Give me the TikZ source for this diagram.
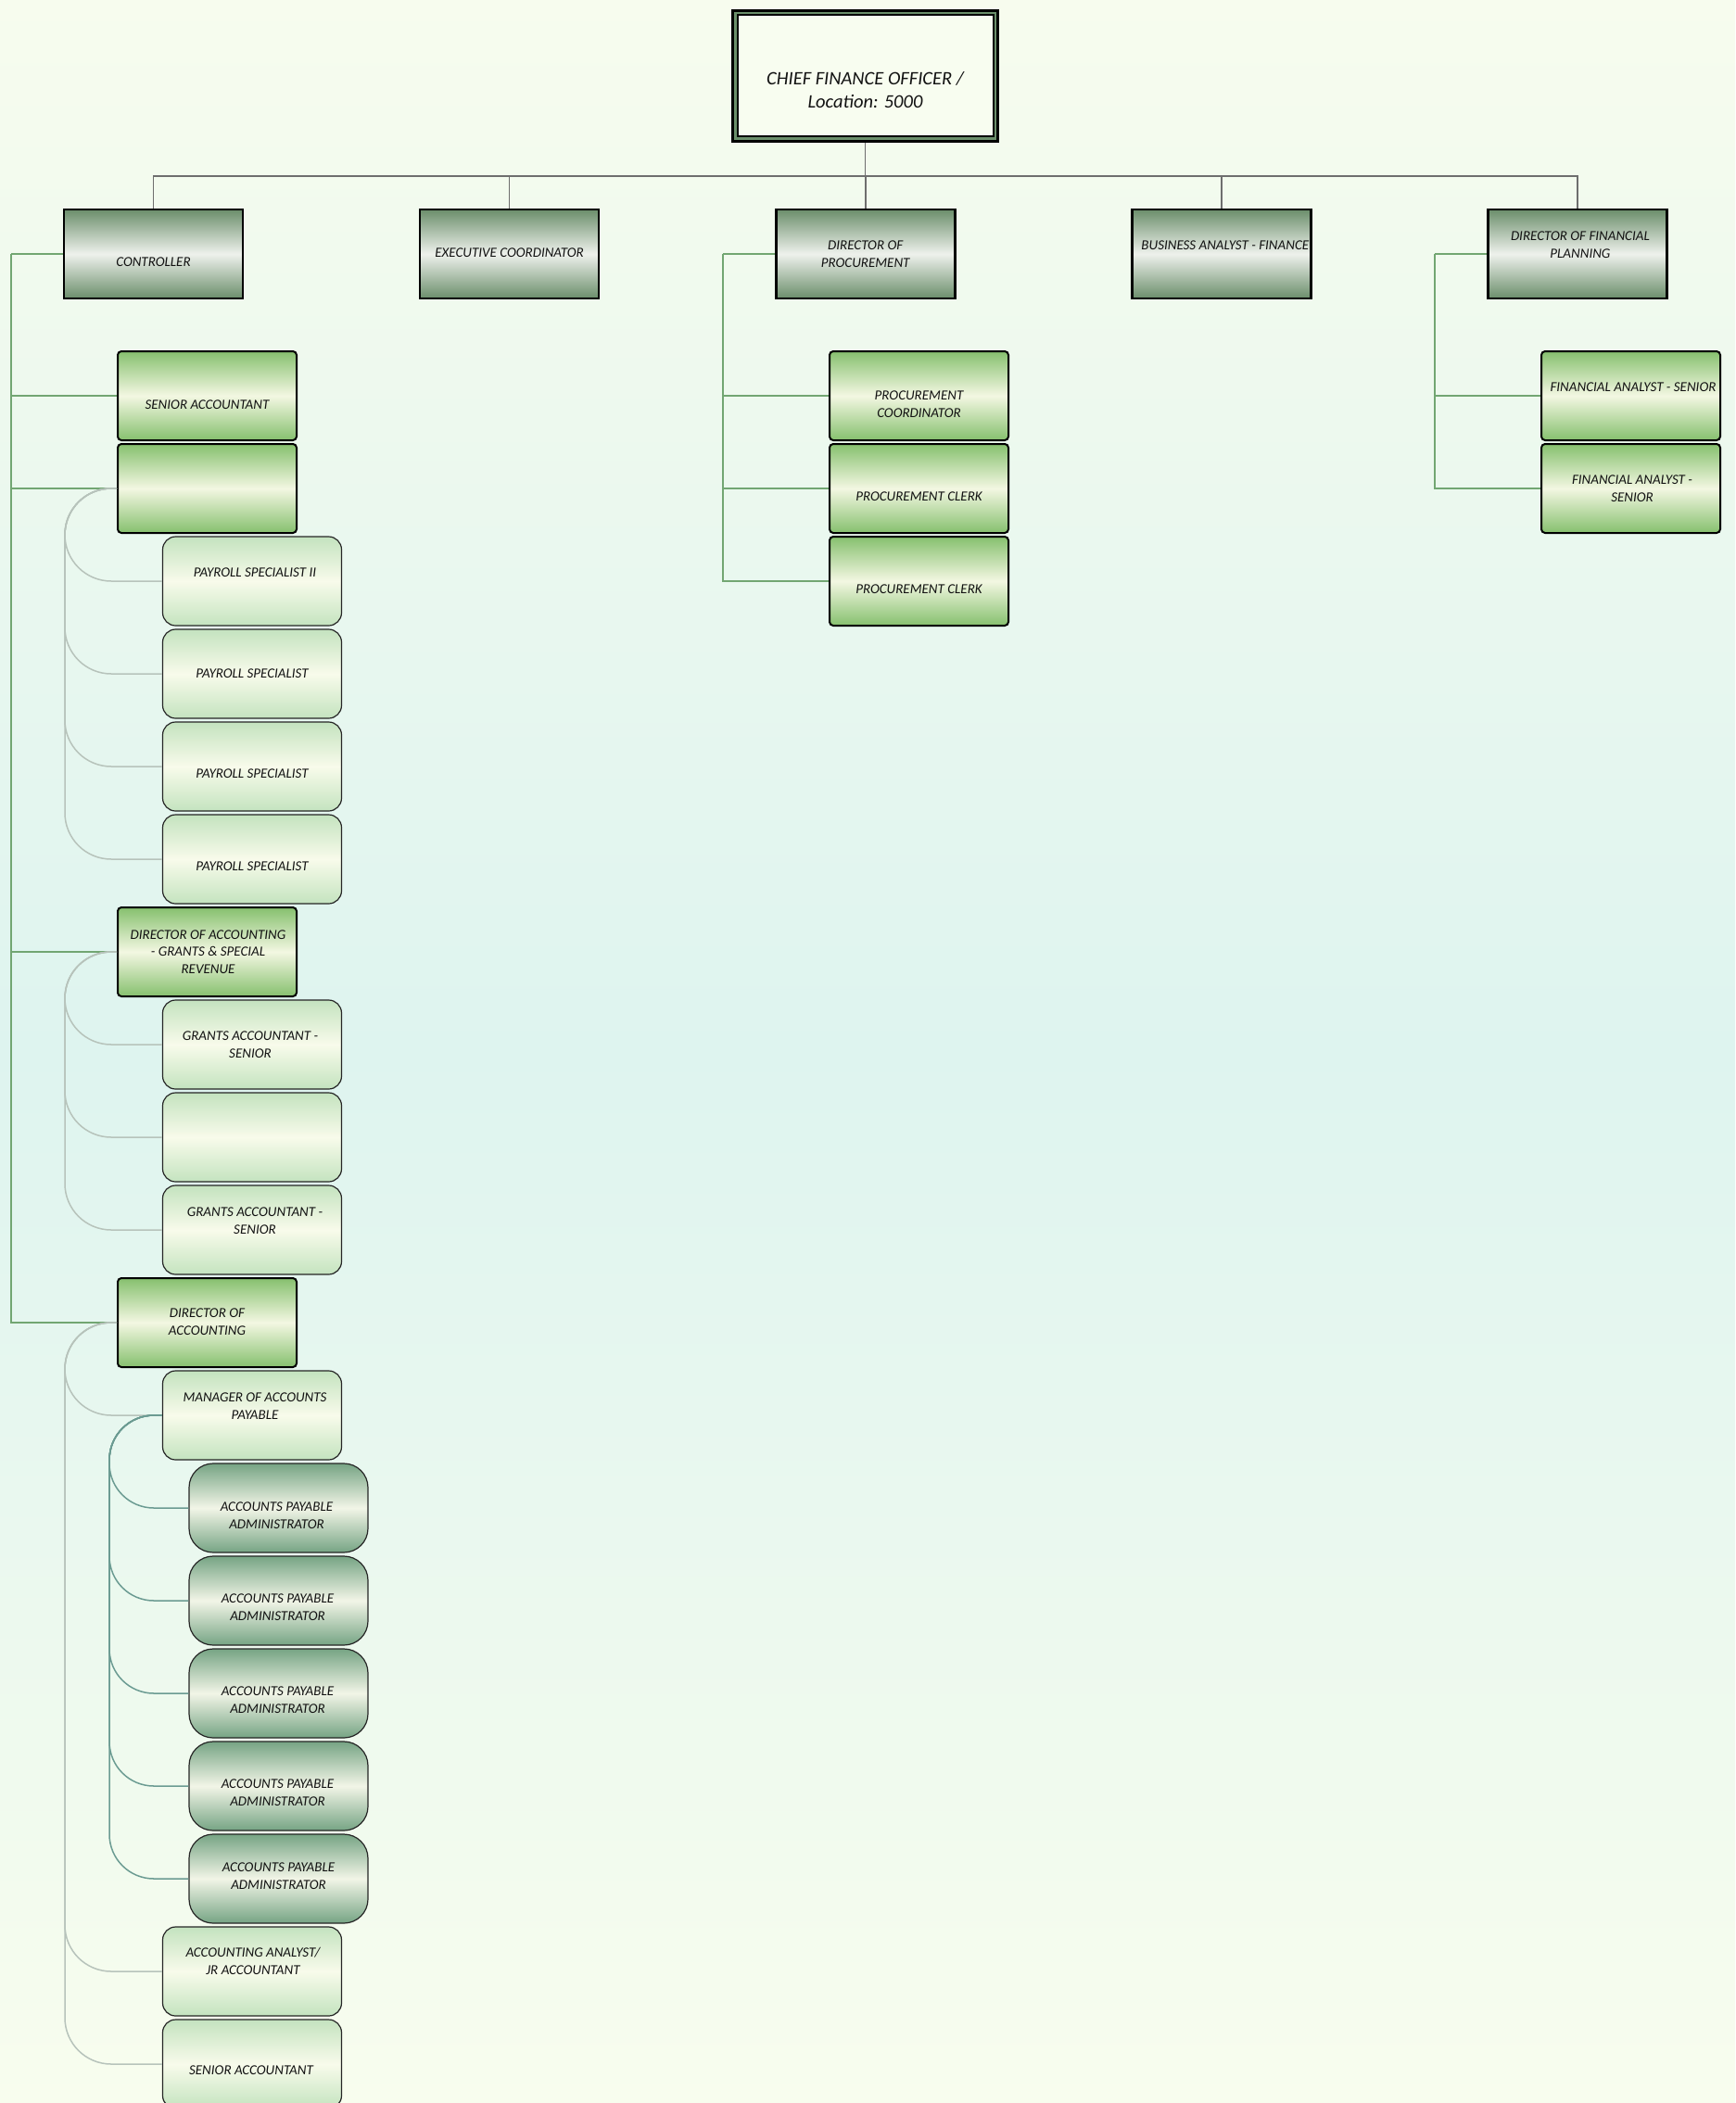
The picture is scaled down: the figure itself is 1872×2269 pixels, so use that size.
\documentclass[tikz,border=0pt]{standalone}
\usepackage{fontspec}
\setmainfont{Carlito}
\definecolor{bgtop}{HTML}{F7FCEE}
\definecolor{bgmid}{HTML}{DEF4EF}
\definecolor{bgbot}{HTML}{F8FDEE}
\definecolor{l1dark}{HTML}{6B8E6B}
\definecolor{l1light}{HTML}{EEF1EC}
\definecolor{l2dark}{HTML}{86C06E}
\definecolor{l2light}{HTML}{F3F7E2}
\definecolor{l3dark}{HTML}{C4E3BF}
\definecolor{l3light}{HTML}{F8FBEB}
\definecolor{l4dark}{HTML}{76A484}
\definecolor{l4light}{HTML}{F2F5E7}
\definecolor{topc}{HTML}{6E6E6E}
\definecolor{grc}{HTML}{72A672}
\definecolor{gyc}{HTML}{B7C3BB}
\definecolor{tlc}{HTML}{6B9B92}
\definecolor{txtc}{HTML}{121212}
\definecolor{cfogreen}{HTML}{6B8F6B}
\definecolor{cfofill}{HTML}{F8FDF0}
\begin{document}
\begin{tikzpicture}[x=1pt,y=-1pt,
  basebox/.style={rectangle, inner sep=0pt, minimum width=193pt, minimum height=96pt},
  l1box/.style={basebox, draw=black, line width=2.6pt, top color=l1dark, bottom color=l1dark, middle color=l1light},
  l2box/.style={basebox, draw=black, line width=2pt, rounded corners=4pt, top color=l2dark, bottom color=l2dark, middle color=l2light},
  l3box/.style={basebox, draw=black!85, line width=1.2pt, rounded corners=14pt, top color=l3dark, bottom color=l3dark, middle color=l3light},
  l4box/.style={basebox, draw=black!85, line width=1.2pt, rounded corners=26pt, top color=l4dark, bottom color=l4dark, middle color=l4light},
  lbl/.style={font=\fontsize{15}{18.5}\selectfont\itshape, align=center, text=txtc, inner sep=0pt},
  topline/.style={draw=topc, line width=1.6pt},
  grline/.style={draw=grc, line width=1.5pt},
  gyline/.style={draw=gyc, line width=1.5pt, rounded corners=50pt},
  tlline/.style={draw=tlc, line width=1.5pt, rounded corners=48pt}]
\useasboundingbox (0,0) rectangle (1872,2269);
\shade[top color=bgtop, bottom color=bgbot, middle color=bgmid] (0,0) rectangle (1872,2269);

% CFO
\node[rectangle, draw=black, line width=3pt, fill=cfogreen, minimum width=286pt, minimum height=141pt, inner sep=0pt] (cfo) at (933.5,82) {};
\node[rectangle, draw=black, line width=2pt, fill=cfofill, minimum width=276pt, minimum height=131pt, inner sep=0pt] (cfoin) at (cfo.center) {};
\node[lbl, font=\fontsize{20.5}{25}\selectfont\itshape] (cfot) at ([yshift=-15pt]cfo.center) {CHIEF FINANCE OFFICER /\\Location: 5000};

% Level 1
\node[l1box] (ctrl) at (165.5,274) {};
\node[lbl] (ctrlt) at ([yshift=-9pt]ctrl.center) {CONTROLLER};
\node[l1box] (exec) at (549.6,274) {};
\node[lbl] (exect) at ([yshift=1pt]exec.center) {EXECUTIVE COORDINATOR};
\node[l1box] (dproc) at (933.7,274) {};
\node[lbl] (dproct) at (dproc.center) {DIRECTOR OF\\PROCUREMENT};
\node[l1box] (busa) at (1317.8,274) {};
\begin{scope}
\clip ([xshift=-1.3pt]busa.north east) rectangle (busa.south west);
\node[lbl] (busat) at ([xshift=4pt,yshift=9pt]busa.center) {BUSINESS ANALYST - FINANCE};
\end{scope}
\node[l1box] (dfp) at (1701.9,274) {};
\node[lbl] (dfpt) at ([xshift=3pt,yshift=10pt]dfp.center) {DIRECTOR OF FINANCIAL\\PLANNING};

% Level 2 - controller
\node[l2box] (sa) at (223.5,427) {};
\node[lbl] (sat) at ([yshift=-10pt]sa.center) {SENIOR ACCOUNTANT};
\node[l2box] (pblank) at (223.5,527) {};
\node[l2box] (dag) at (223.5,1027) {};
\node[lbl] (dagt) at ([xshift=1pt]dag.center) {DIRECTOR OF ACCOUNTING\\- GRANTS \& SPECIAL\\REVENUE};
\node[l2box] (dacc) at (223.5,1427) {};
\node[lbl] (dacct) at ([yshift=1pt]dacc.center) {DIRECTOR OF\\ACCOUNTING};

% Level 2 - procurement
\node[l2box] (pc) at (991.5,427) {};
\node[lbl] (pct) at ([yshift=-9pt]pc.center) {PROCUREMENT\\COORDINATOR};
\node[l2box] (pcl1) at (991.5,527) {};
\node[lbl] (pcl1t) at ([yshift=-9pt]pcl1.center) {PROCUREMENT CLERK};
\node[l2box] (pcl2) at (991.5,627) {};
\node[lbl] (pcl2t) at ([yshift=-9pt]pcl2.center) {PROCUREMENT CLERK};

% Level 2 - financial planning
\node[l2box] (fa1) at (1759.5,427) {};
\node[lbl] (fa1t) at ([xshift=2.5pt,yshift=9pt]fa1.center) {FINANCIAL ANALYST - SENIOR};
\node[l2box] (fa2) at (1759.5,527) {};
\node[lbl] (fa2t) at ([xshift=1.5pt]fa2.center) {FINANCIAL ANALYST -\\SENIOR};

% Level 3 - payroll
\node[l3box] (ps2) at (272,627) {};
\node[lbl] (ps2t) at ([xshift=3pt,yshift=9pt]ps2.center) {PAYROLL SPECIALIST II};
\node[l3box] (ps3) at (272,727) {};
\node[lbl] (ps3t) at (ps3.center) {PAYROLL SPECIALIST};
\node[l3box] (ps4) at (272,827) {};
\node[lbl] (ps4t) at ([yshift=-8pt]ps4.center) {PAYROLL SPECIALIST};
\node[l3box] (ps5) at (272,927) {};
\node[lbl] (ps5t) at ([yshift=-8pt]ps5.center) {PAYROLL SPECIALIST};

% Level 3 - grants
\node[l3box] (ga1) at (272,1127) {};
\node[lbl] (ga1t) at ([xshift=-2pt]ga1.center) {GRANTS ACCOUNTANT -\\SENIOR};
\node[l3box] (gblank) at (272,1227) {};
\node[l3box] (ga2) at (272,1327) {};
\node[lbl] (ga2t) at ([xshift=3pt,yshift=10pt]ga2.center) {GRANTS ACCOUNTANT -\\SENIOR};

% Level 3 - accounting
\node[l3box] (map) at (272,1527) {};
\node[lbl] (mapt) at ([xshift=3pt,yshift=10pt]map.center) {MANAGER OF ACCOUNTS\\PAYABLE};
\node[l3box] (aaj) at (272,2127) {};
\node[lbl] (aajt) at ([xshift=1pt,yshift=11pt]aaj.center) {ACCOUNTING ANALYST/\\JR ACCOUNTANT};
\node[l3box] (sa2) at (272,2227) {};
\node[lbl] (sa2t) at ([xshift=-1pt,yshift=-7pt]sa2.center) {SENIOR ACCOUNTANT};

% Level 4 - AP admins
\node[l4box] (ap1) at (300.5,1627) {};
\node[lbl] (ap1t) at ([xshift=-2pt,yshift=-8pt]ap1.center) {ACCOUNTS PAYABLE\\ADMINISTRATOR};
\node[l4box] (ap2) at (300.5,1727) {};
\node[lbl] (ap2t) at ([xshift=-1pt,yshift=-7pt]ap2.center) {ACCOUNTS PAYABLE\\ADMINISTRATOR};
\node[l4box] (ap3) at (300.5,1827) {};
\node[lbl] (ap3t) at ([xshift=-1pt,yshift=-7pt]ap3.center) {ACCOUNTS PAYABLE\\ADMINISTRATOR};
\node[l4box] (ap4) at (300.5,1927) {};
\node[lbl] (ap4t) at ([xshift=-1pt,yshift=-7pt]ap4.center) {ACCOUNTS PAYABLE\\ADMINISTRATOR};
\node[l4box] (ap5) at (300.5,2027) {};
\node[lbl] (ap5t) at ([yshift=3pt]ap5.center) {ACCOUNTS PAYABLE\\ADMINISTRATOR};

% Top connectors
\coordinate (cbus) at (933.5,190);
\draw[topline] (cfo.south) -- (cbus);
\foreach \n in {ctrl,exec,dproc,busa,dfp} \draw[topline] (cbus) -| (\n.north);

% Green connectors
\coordinate (cv) at (12,274);
\draw[grline] (ctrl.west) -- (cv);
\foreach \n in {sa,pblank,dag,dacc} \draw[grline] (cv) |- (\n.west);
\coordinate (pv) at (780,274);
\draw[grline] (dproc.west) -- (pv);
\foreach \n in {pc,pcl1,pcl2} \draw[grline] (pv) |- (\n.west);
\coordinate (fv) at (1548,274);
\draw[grline] (dfp.west) -- (fv);
\foreach \n in {fa1,fa2} \draw[grline] (fv) |- (\n.west);

% Grey curved connectors
\coordinate (gx) at (70,0);
\foreach \n in {ps2,ps3,ps4,ps5}
  \draw[gyline] (pblank.west) -- (pblank.west -| gx) -- (\n.west -| gx) -- (\n.west);
\foreach \n in {ga1,gblank,ga2}
  \draw[gyline] (dag.west) -- (dag.west -| gx) -- (\n.west -| gx) -- (\n.west);
\foreach \n in {map,aaj,sa2}
  \draw[gyline] (dacc.west) -- (dacc.west -| gx) -- (\n.west -| gx) -- (\n.west);

% Teal curved connectors
\coordinate (tx) at (118,0);
\foreach \n in {ap1,ap2,ap3,ap4,ap5}
  \draw[tlline] (map.west) -- (map.west -| tx) -- (\n.west -| tx) -- (\n.west);
\end{tikzpicture}
\end{document}
